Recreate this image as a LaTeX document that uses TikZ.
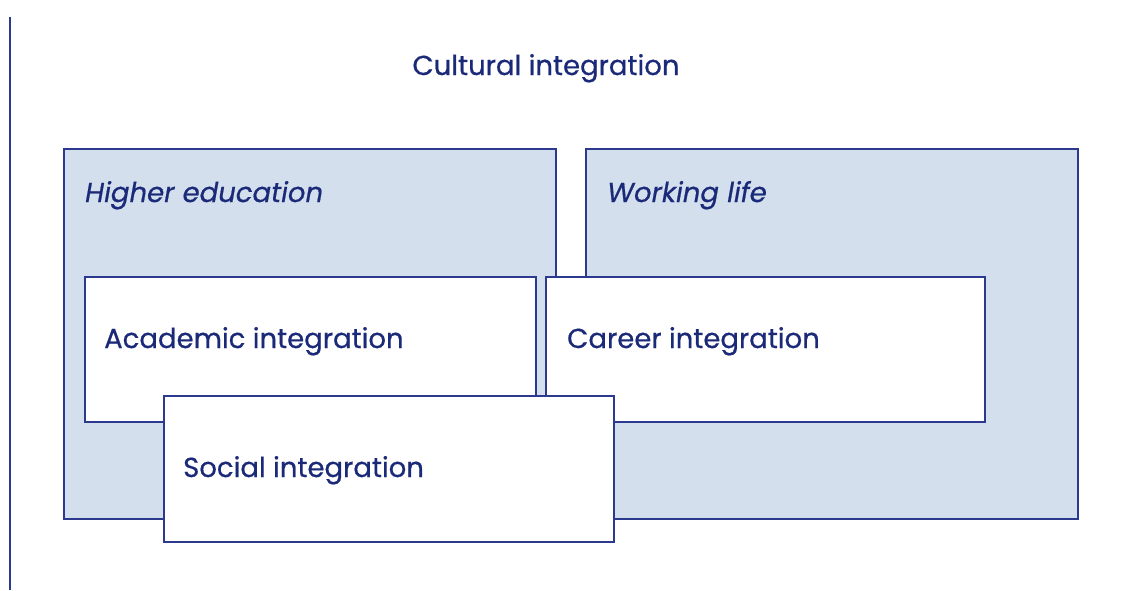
\documentclass[tikz,border=0pt]{standalone}
\usepackage{fontspec}
\setmainfont{Poppins}[FakeBold=0.6]
\usepackage{tikz}
\definecolor{edgeblue}{HTML}{2B3A8F}
\definecolor{fillblue}{HTML}{D4DFEE}
\definecolor{textblue}{HTML}{1B2A78}
\tikzset{
 area/.style={draw=edgeblue, fill=fillblue, line width=2pt, anchor=north west, inner sep=0pt},
 part/.style={draw=edgeblue, fill=white, line width=2pt, anchor=north west, inner sep=0pt},
 label/.style={text=textblue, font=\fontsize{27.5}{32}\selectfont, anchor=base west, inner sep=0pt},
}
\begin{document}
\begin{tikzpicture}[x=1pt, y=-1pt]
\useasboundingbox (0,0) rectangle (1127,590);

\draw[edgeblue, line width=2pt] (10,17) -- (10,590);

\node[label, anchor=base] (cult) at (546,75) {Cultural integration};

\node[area, minimum width=492pt, minimum height=370pt] (higher) at (63,148) {};
\node[area, minimum width=492pt, minimum height=370pt] (work) at (585,148) {};
\node[label] (higherlbl) at (85,202) {\itshape Higher education};
\node[label] (worklbl) at (607,202) {\itshape Working life};

\node[part, minimum width=451pt, minimum height=145pt] (acad) at (84,276) {};
\node[part, minimum width=439pt, minimum height=145pt] (career) at (545,276) {};
\node[part, minimum width=450pt, minimum height=146pt] (social) at (163,395) {};

\node[label] (acadlbl) at (104,348) {Academic integration};
\node[label] (careerlbl) at (567,348) {Career integration};
\node[label] (sociallbl) at (183,477) {Social integration};
\end{tikzpicture}
\end{document}
